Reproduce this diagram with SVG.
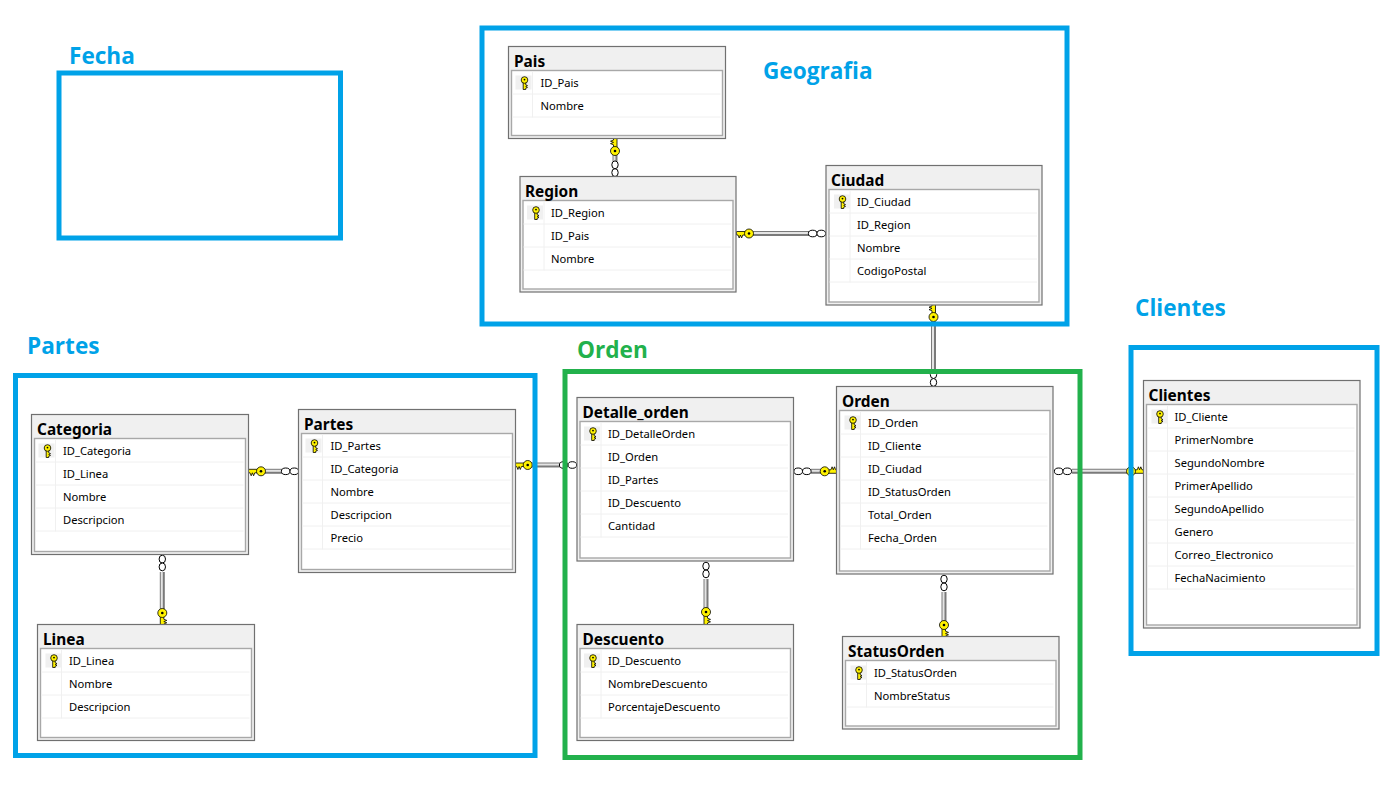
<svg xmlns="http://www.w3.org/2000/svg" xmlns:xlink="http://www.w3.org/1999/xlink" width="1400" height="789" viewBox="0 0 1400 789">
<style>
text{font-family:"Noto Sans","Open Sans","Liberation Sans",sans-serif;fill:#000}
.outer{fill:#f0f0f0;stroke:#707070;stroke-width:1.2}
.inner{fill:#fff;stroke:#a8a8a8;stroke-width:1.4}
.sep{stroke:#f0f0f0;stroke-width:1;fill:none}
.ttl{font-size:15.400px;font-weight:700}
.row{font-size:11.200px}
.keybg{fill:#f0f0f0}
.frame{fill:none;stroke:#00a2e8;stroke-width:5}
.frame.g{stroke:#22b14c}
.lbl{font-family:"Open Sans","Noto Sans",sans-serif;font-size:22.600px;font-weight:700;fill:#00a2e8}
.lbl.g{fill:#22b14c}
.ca{stroke:#7a7a7a;stroke-width:5;fill:none}
.cb{stroke:#e4e4e4;stroke-width:2;fill:none}
.inf{fill:#fff;stroke:#000;stroke-width:1}
.k{fill:#fff200;stroke:#000;stroke-width:0.800}
</style>
<defs>
<g id="bigkey">
<path class="k" d="M-2 3V12.500H1.500V11L4.500 9.800L1.500 8.600L4.500 7.400L1.500 6.200V3Z"/>
<circle class="k" r="4.500"/>
<circle r="1.300" fill="#000"/>
</g>
<g id="smallkey">
<path class="k" d="M-1.300 2V9.500H1.200V8.300L3 7.400L1.200 6.500L3 5.600L1.200 4.700V2Z"/>
<circle class="k" r="3.300"/>
<circle r="0.900" fill="#000" cy="-0.400"/>
</g>
<g id="infv"><ellipse class="inf" cy="-3.900" rx="3.200" ry="3.900"/><ellipse class="inf" cy="3.900" rx="3.200" ry="3.900"/></g>
<g id="infh"><ellipse class="inf" cx="-4.300" rx="4.300" ry="3.300"/><ellipse class="inf" cx="4.300" rx="4.300" ry="3.300"/></g>
</defs>

<g id="connectors">
<path class="ca" d="M615 154V161"/><path class="cb" d="M614.500 154V161"/>
<use href="#bigkey" transform="translate(615 151) rotate(180)"/><use href="#infv" x="615" y="168.700"/>
<path class="ca" d="M752 233.500H809"/><path class="cb" d="M752 233H809"/>
<use href="#bigkey" transform="translate(749 233.500) rotate(90)"/><use href="#infh" x="817" y="233.500"/>
<path class="ca" d="M933.500 320V371"/><path class="cb" d="M933 320V371"/>
<use href="#bigkey" transform="translate(933.500 317) rotate(180)"/><use href="#infv" x="933.500" y="378.500"/>
<path class="ca" d="M531 465H560"/><path class="cb" d="M531 464.500H560"/>
<use href="#bigkey" transform="translate(527.700 465) rotate(90)"/><use href="#infh" x="568" y="465"/>
<path class="ca" d="M811 471.300H821"/><path class="cb" d="M811 470.800H821"/>
<use href="#bigkey" transform="translate(824.700 471.300) rotate(-90)"/><use href="#infh" x="802.500" y="471.300"/>
<path class="ca" d="M1072 471.300H1128"/><path class="cb" d="M1072 470.800H1128"/>
<use href="#bigkey" transform="translate(1131 471.300) rotate(-90)"/><use href="#infh" x="1063" y="471.300"/>
<path class="ca" d="M264 471.300H283"/><path class="cb" d="M264 470.800H283"/>
<use href="#bigkey" transform="translate(261 471.300) rotate(90)"/><use href="#infh" x="290" y="471.300"/>
<path class="ca" d="M162.300 572V610"/><path class="cb" d="M161.800 572V610"/>
<use href="#bigkey" transform="translate(162.300 613)"/><use href="#infv" x="162.300" y="563"/>
<path class="ca" d="M706 579V609"/><path class="cb" d="M705.500 579V609"/>
<use href="#bigkey" transform="translate(706 612)"/><use href="#infv" x="706" y="570"/>
<path class="ca" d="M944 592V622"/><path class="cb" d="M943.500 592V622"/>
<use href="#bigkey" transform="translate(944 625)"/><use href="#infv" x="944" y="583"/>
</g>

<g id="Pais" transform="translate(508.500 46.500)">
<rect class="outer" width="217" height="92"/><rect class="inner" x="3" y="24" width="211" height="65"/>
<path class="sep" d="M3.500 47.500H212M3.500 70.500H212M24 25V71"/>
<rect class="keybg" x="7" y="29" width="16" height="14"/><use href="#smallkey" x="16" y="33.500"/>
<text class="ttl" x="5.500" y="20.500">Pais</text>
<text class="row" x="32" y="40.500">ID_Pais</text><text class="row" x="32" y="63.500">Nombre</text>
</g>
<g id="Region" transform="translate(520 176.500)">
<rect class="outer" width="216" height="115.500"/><rect class="inner" x="3" y="24" width="210" height="88.500"/>
<path class="sep" d="M3.500 47.500H211M3.500 70.500H211M3.500 93.500H211M24 25V94"/>
<rect class="keybg" x="7" y="29" width="16" height="14"/><use href="#smallkey" x="16" y="33.500"/>
<text class="ttl" x="5" y="20.500">Region</text>
<text class="row" x="31" y="40.500">ID_Region</text><text class="row" x="31" y="63.500">ID_Pais</text><text class="row" x="31" y="86.500">Nombre</text>
</g>
<g id="Ciudad" transform="translate(826 165.500)">
<rect class="outer" width="216" height="139.500"/><rect class="inner" x="3" y="24" width="210" height="112.500"/>
<path class="sep" d="M3.500 47.500H211M3.500 70.500H211M3.500 93.500H211M3.500 116.500H211M24 25V117"/>
<rect class="keybg" x="8" y="29" width="16" height="14"/><use href="#smallkey" x="16.500" y="33.500"/>
<text class="ttl" x="5" y="20.500">Ciudad</text>
<text class="row" x="31" y="40.500">ID_Ciudad</text><text class="row" x="31" y="63.500">ID_Region</text><text class="row" x="31" y="86.500">Nombre</text><text class="row" x="31" y="109.500">CodigoPostal</text>
</g>
<g id="Categoria" transform="translate(31.500 414.500)">
<rect class="outer" width="217" height="140"/><rect class="inner" x="3" y="24" width="211" height="113"/>
<path class="sep" d="M3.500 47.500H212M3.500 70.500H212M3.500 93.500H212M3.500 116.500H212M24 25V117"/>
<rect class="keybg" x="7" y="29" width="16" height="14"/><use href="#smallkey" x="16" y="33.500"/>
<text class="ttl" x="5.500" y="20.500">Categoria</text>
<text class="row" x="31.500" y="40.500">ID_Categoria</text><text class="row" x="31.500" y="63.500">ID_Linea</text><text class="row" x="31.500" y="86.500">Nombre</text><text class="row" x="31.500" y="109.500">Descripcion</text>
</g>
<g id="Partes" transform="translate(298.500 409.500)">
<rect class="outer" width="217" height="163"/><rect class="inner" x="3" y="24" width="211" height="136"/>
<path class="sep" d="M3.500 47.500H212M3.500 70.500H212M3.500 93.500H212M3.500 116.500H212M3.500 139.500H212M24 25V140"/>
<rect class="keybg" x="7" y="29" width="16" height="14"/><use href="#smallkey" x="16" y="33.500"/>
<text class="ttl" x="5.500" y="20.500">Partes</text>
<text class="row" x="32" y="40.500">ID_Partes</text><text class="row" x="32" y="63.500">ID_Categoria</text><text class="row" x="32" y="86.500">Nombre</text><text class="row" x="32" y="109.500">Descripcion</text><text class="row" x="32" y="132.500">Precio</text>
</g>
<g id="Linea" transform="translate(37.500 624.500)">
<rect class="outer" width="217" height="116"/><rect class="inner" x="3" y="24" width="211" height="89"/>
<path class="sep" d="M3.500 47.500H212M3.500 70.500H212M3.500 93.500H212M24 25V94"/>
<rect class="keybg" x="8" y="29" width="16" height="14"/><use href="#smallkey" x="16.500" y="33.500"/>
<text class="ttl" x="5.500" y="20.500">Linea</text>
<text class="row" x="31.500" y="40.500">ID_Linea</text><text class="row" x="31.500" y="63.500">Nombre</text><text class="row" x="31.500" y="86.500">Descripcion</text>
</g>
<g id="Detalle_orden" transform="translate(577 397.500)">
<rect class="outer" width="216.500" height="163.500"/><rect class="inner" x="3" y="24" width="210.500" height="136.500"/>
<path class="sep" d="M3.500 47.500H211M3.500 70.500H211M3.500 93.500H211M3.500 116.500H211M3.500 139.500H211M24 25V140"/>
<rect class="keybg" x="7" y="29" width="16" height="14"/><use href="#smallkey" x="16" y="33.500"/>
<text class="ttl" x="5.500" y="20.500">Detalle_orden</text>
<text class="row" x="31" y="40.500">ID_DetalleOrden</text><text class="row" x="31" y="63.500">ID_Orden</text><text class="row" x="31" y="86.500">ID_Partes</text><text class="row" x="31" y="109.500">ID_Descuento</text><text class="row" x="31" y="132.500">Cantidad</text>
</g>
<g id="Orden" transform="translate(836.500 386.500)">
<rect class="outer" width="216.500" height="187.500"/><rect class="inner" x="3" y="24" width="210.500" height="160.500"/>
<path class="sep" d="M3.500 47.500H211M3.500 70.500H211M3.500 93.500H211M3.500 116.500H211M3.500 139.500H211M3.500 162.500H211M24 25V163"/>
<rect class="keybg" x="8" y="29" width="16" height="14"/><use href="#smallkey" x="16.500" y="33.500"/>
<text class="ttl" x="5.500" y="20.500">Orden</text>
<text class="row" x="31.500" y="40.500">ID_Orden</text><text class="row" x="31.500" y="63.500">ID_Cliente</text><text class="row" x="31.500" y="86.500">ID_Ciudad</text><text class="row" x="31.500" y="109.500">ID_StatusOrden</text><text class="row" x="31.500" y="132.500">Total_Orden</text><text class="row" x="31.500" y="155.500">Fecha_Orden</text>
</g>
<g id="Descuento" transform="translate(577 624.500)">
<rect class="outer" width="216.500" height="116"/><rect class="inner" x="3" y="24" width="210.500" height="89"/>
<path class="sep" d="M3.500 47.500H211M3.500 70.500H211M3.500 93.500H211M24 25V94"/>
<rect class="keybg" x="7" y="29" width="16" height="14"/><use href="#smallkey" x="16" y="33.500"/>
<text class="ttl" x="5.500" y="20.500">Descuento</text>
<text class="row" x="31" y="40.500">ID_Descuento</text><text class="row" x="31" y="63.500">NombreDescuento</text><text class="row" x="31" y="86.500">PorcentajeDescuento</text>
</g>
<g id="StatusOrden" transform="translate(842.500 636.500)">
<rect class="outer" width="216.500" height="92.500"/><rect class="inner" x="3" y="24" width="210.500" height="65.500"/>
<path class="sep" d="M3.500 47.500H211M3.500 70.500H211M24 25V71"/>
<rect class="keybg" x="8" y="29" width="16" height="14"/><use href="#smallkey" x="16.500" y="33.500"/>
<text class="ttl" x="5.500" y="20.500">StatusOrden</text>
<text class="row" x="31.500" y="40.500">ID_StatusOrden</text><text class="row" x="31.500" y="63.500">NombreStatus</text>
</g>
<g id="Clientes" transform="translate(1143.500 380.500)">
<rect class="outer" width="216.500" height="247.500"/><rect class="inner" x="3" y="24" width="210.500" height="220.500"/>
<path class="sep" d="M3.500 47.500H211M3.500 70.500H211M3.500 93.500H211M3.500 116.500H211M3.500 139.500H211M3.500 162.500H211M3.500 185.500H211M3.500 208.500H211M24 25V209"/>
<rect class="keybg" x="8" y="29" width="16" height="14"/><use href="#smallkey" x="16.500" y="33.500"/>
<text class="ttl" x="5" y="20.500">Clientes</text>
<text class="row" x="31" y="40.500">ID_Cliente</text><text class="row" x="31" y="63.500">PrimerNombre</text><text class="row" x="31" y="86.500">SegundoNombre</text><text class="row" x="31" y="109.500">PrimerApellido</text><text class="row" x="31" y="132.500">SegundoApellido</text><text class="row" x="31" y="155.500">Genero</text><text class="row" x="31" y="178.500">Correo_Electronico</text><text class="row" x="31" y="201.500">FechaNacimiento</text>
</g>

<g id="Fecha"><rect class="frame" x="59" y="73" width="281.500" height="165"/><text class="lbl" x="69" y="64">Fecha</text></g>
<g id="Geografia"><rect class="frame" x="482" y="28" width="585" height="296"/><text class="lbl" x="763" y="79">Geografia</text></g>
<g id="PartesArea"><rect class="frame" x="15.500" y="375.500" width="519.500" height="380"/><text class="lbl" x="27" y="354">Partes</text></g>
<g id="OrdenArea"><rect class="frame g" x="565" y="371.500" width="515" height="386"/><text class="lbl g" x="577" y="358">Orden</text></g>
<g id="ClientesArea"><rect class="frame" x="1131" y="347.500" width="246" height="306"/><text class="lbl" x="1135" y="316">Clientes</text></g>
</svg>
